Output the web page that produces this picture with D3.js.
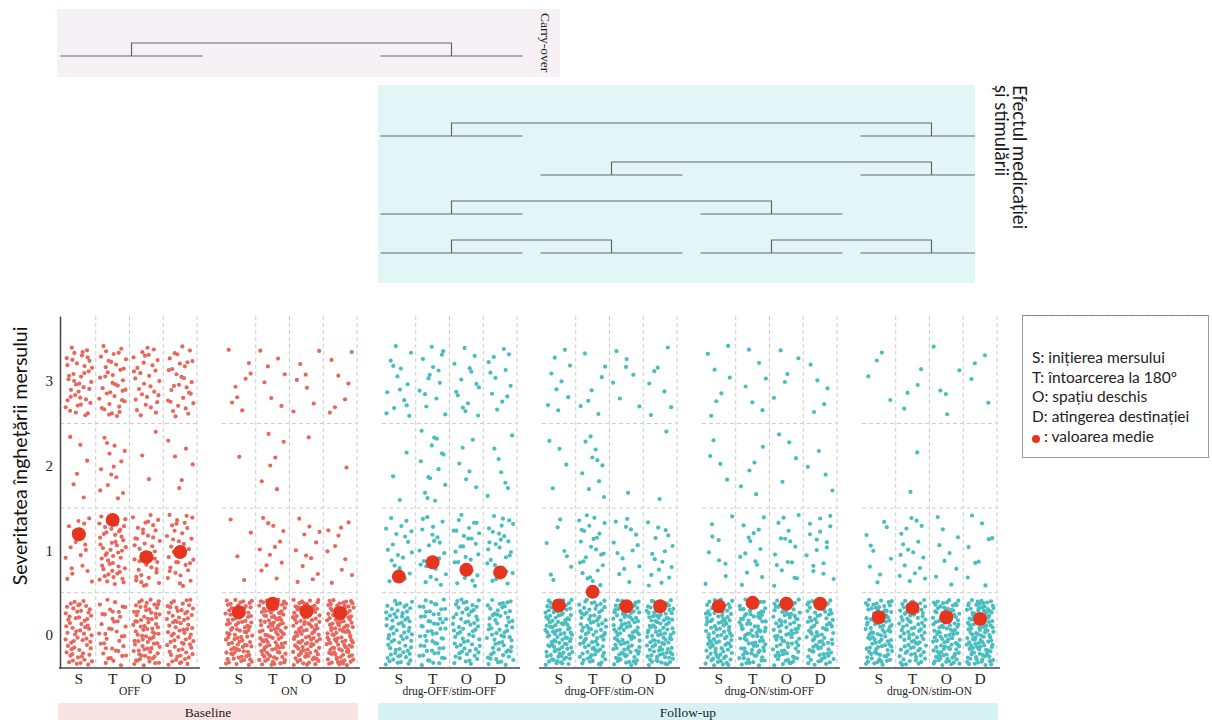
<!DOCTYPE html>
<html>
<head>
<meta charset="utf-8">
<script src="https://cdn.jsdelivr.net/npm/d3@7"></script>
<style>
body { margin: 0; background: #fff; }
svg { display: block; }
</style>
</head>
<body>
<div id="main"></div>
<script>
const W = 1212;
const H = 720;

const panels = ["OFF", "ON", "drug-OFF/stim-OFF", "drug-OFF/stim-ON", "drug-ON/stim-OFF", "drug-ON/stim-ON"];
const panelPhase = ["Baseline", "Baseline", "Follow-up", "Follow-up", "Follow-up", "Follow-up"];
const tasks = ["S", "T", "O", "D"];
const levels = [0, 1, 2, 3];

// number of observations per task (S,T,O,D), split by severity level [0,1,2,3]
const countsOFF    = [[60, 18, 6, 40], [40, 50, 14, 38], [75, 40, 3, 30], [65, 35, 6, 30]];
const countsON     = [[90, 4, 1, 8], [100, 12, 6, 7], [100, 12, 1, 7], [105, 10, 1, 7]];
const countsOffOff = [[65, 20, 3, 14], [55, 22, 14, 14], [60, 28, 6, 14], [60, 28, 7, 12]];
const countsOffOn  = [[100, 8, 4, 9], [80, 25, 10, 7], [90, 14, 1, 7], [95, 16, 2, 7]];
const countsOnOff  = [[90, 9, 4, 7], [85, 14, 5, 6], [80, 16, 4, 5], [80, 16, 4, 5]];
const countsOnOn   = [[90, 9, 0, 4], [80, 17, 2, 4], [100, 9, 0, 5], [110, 9, 0, 4]];

// mean severity per task
const meansOFF    = [1.19, 1.36, 0.92, 0.98];
const meansON     = [0.27, 0.37, 0.28, 0.26];
const meansOffOff = [0.69, 0.86, 0.77, 0.74];
const meansOffOn  = [0.35, 0.51, 0.34, 0.34];
const meansOnOff  = [0.34, 0.38, 0.37, 0.37];
const meansOnOn   = [0.21, 0.32, 0.21, 0.19];

const allCounts = [countsOFF, countsON, countsOffOff, countsOffOn, countsOnOff, countsOnOn];
const allMeans = [meansOFF, meansON, meansOffOff, meansOffOn, meansOnOff, meansOnOn];

// comparisons drawn as brackets (panel indices)
const carryOver = [[0, 2]];
const effectRows = [[[2, 5]], [[3, 5]], [[2, 4]], [[2, 3], [4, 5]]];

const legendLines = ["S: inițierea mersului", "T: întoarcerea la 180º", "O: spațiu deschis", "D: atingerea destinației"];
const legendMean = ": valoarea medie";

const SERIF = "'Liberation Serif', 'Times New Roman', serif";
const SANS = "Lato, 'Open Sans', sans-serif";
const C_BASE = "#e8675d";
const C_FOLLOW = "#49bdc0";
const C_MEAN = "#e6351f";

var svg = d3.select("#main").append("svg").attr("width", W).attr("height", H);

var x = d3.scaleBand().domain(panels).range([62, 997]).paddingInner(0.156).paddingOuter(0);
var col = d3.scaleBand().domain(tasks).range([0, x.bandwidth()]);
var y = d3.scaleLinear().domain([-0.39, 3.77]).range([668, 316]);

// deterministic low-discrepancy jitter inside each cell
var halton = function(i, b){
    var f = 1, r = 0;
    while (i > 0){ f /= b; r += f * (i % b); i = Math.floor(i / b); }
    return r;
};

// ---------- top comparison diagrams ----------
var center = function(pi){ return x(panels[pi]) + x.bandwidth() / 2 + 2; };
var HALF = 71;

var drawRow = function(g, pairs, yLine, xMin, xMax){
    var used = Array.from(new Set(pairs.flat()));
    used.forEach(function(pi){
        g.append("line")
         .attr("x1", Math.max(xMin, center(pi) - HALF)).attr("x2", Math.min(xMax, center(pi) + HALF))
         .attr("y1", yLine).attr("y2", yLine);
    });
    pairs.forEach(function(pr){
        var a = center(pr[0]), b = center(pr[1]);
        g.append("path").attr("fill", "none")
         .attr("d", "M" + a + "," + yLine + "V" + (yLine - 13) + "H" + b + "V" + yLine);
    });
};

svg.append("rect").attr("x", 57).attr("y", 9).attr("width", 503).attr("height", 68).attr("fill", "#f5f1f5");
var coG = svg.append("g").attr("stroke", "#666").attr("stroke-width", 1.2);
drawRow(coG, carryOver, 56, 57, 560);
svg.append("text").attr("transform", "translate(541,13) rotate(90)")
   .attr("font-family", SERIF).attr("font-size", 13.5).attr("fill", "#222").text("Carry-over");

svg.append("rect").attr("x", 378).attr("y", 85).attr("width", 597).attr("height", 198).attr("fill", "#e3f6f6");
var efG = svg.append("g").attr("stroke", "#666").attr("stroke-width", 1.2);
effectRows.forEach(function(pairs, i){ drawRow(efG, pairs, 136 + i * 39, 378, 975); });
var efT = svg.append("text").attr("transform", "translate(1013,85) rotate(90)")
   .attr("font-family", SANS).attr("font-size", 18.5).attr("fill", "#1a1a1a");
efT.append("tspan").attr("x", 0).attr("y", 0).text("Efectul medicației");
efT.append("tspan").attr("x", 0).attr("y", 18.5).text("și stimulării");

// ---------- panels ----------
panels.forEach(function(p, pi){
    var g = svg.append("g").attr("transform", "translate(" + x(p) + ",0)");
    var bw = x.bandwidth();
    var color = panelPhase[pi] === "Baseline" ? C_BASE : C_FOLLOW;

    // grid
    [0.5, 1.5, 2.5].forEach(function(v){
        g.append("line").attr("x1", pi === 0 ? -2 : 0).attr("x2", bw).attr("y1", y(v)).attr("y2", y(v))
         .attr("stroke", "#ccc").attr("stroke-dasharray", "4,3");
    });
    tasks.forEach(function(t){
        var xv = col(t) + col.bandwidth();
        g.append("line").attr("x1", xv).attr("x2", xv).attr("y1", y.range()[1]).attr("y2", y.range()[0])
         .attr("stroke", "#ccc").attr("stroke-dasharray", "4,3");
    });

    // jittered observations
    var pts = [];
    allCounts[pi].forEach(function(byLevel, ti){
        byLevel.forEach(function(n, li){
            var lo = li === 0 ? -0.36 : -0.42, hi = 0.42;
            var off = (pi * 16 + ti * 4 + li) * 53 + 7;
            for (var i = 0; i < n; i++){
                pts.push({
                    px: col(tasks[ti]) + col.bandwidth() * (0.1 + 0.8 * halton(i + off, 2)),
                    py: y(levels[li] + lo + (hi - lo) * halton(i + off, 3))
                });
            }
        });
    });
    g.selectAll("circle.obs").data(pts).enter().append("circle").attr("class", "obs")
     .attr("cx", function(d){ return d.px; }).attr("cy", function(d){ return d.py; })
     .attr("r", 2.1).attr("fill", color);

    // means
    g.selectAll("circle.mean").data(allMeans[pi]).enter().append("circle").attr("class", "mean")
     .attr("cx", function(d, i){ return col(tasks[i]) + col.bandwidth() / 2; })
     .attr("cy", function(d){ return y(d); })
     .attr("r", 7).attr("fill", C_MEAN);

    // x axis
    var ax = g.append("g").attr("transform", "translate(0," + y.range()[0] + ")")
              .call(d3.axisBottom(col).tickSize(0).tickPadding(4.5));
    ax.select(".domain").remove();
    ax.selectAll("text").attr("font-family", SERIF).attr("font-size", 15.5).attr("fill", "#222");
    g.append("line").attr("x1", -3).attr("x2", bw + 3).attr("y1", y.range()[0]).attr("y2", y.range()[0])
     .attr("stroke", "#444").attr("stroke-width", 1.5);

    g.append("text").attr("x", bw / 2).attr("y", 695).attr("text-anchor", "middle")
     .attr("font-family", SERIF).attr("font-size", 11.5).attr("fill", "#222").text(p);
});

// y axis
var yAx = svg.append("g").attr("transform", "translate(60,0)")
             .call(d3.axisLeft(y).tickValues(levels).tickSize(0).tickPadding(7).tickFormat(d3.format("d")));
yAx.select(".domain").attr("stroke", "#444").attr("stroke-width", 1.5);
yAx.selectAll("text").attr("font-family", SERIF).attr("font-size", 15).attr("fill", "#222");

svg.append("text").attr("transform", "translate(27,456) rotate(-90)").attr("text-anchor", "middle")
   .attr("font-family", SANS).attr("font-size", 19.5).attr("fill", "#111").text("Severitatea înghețării mersului");

// ---------- phase bars ----------
var phaseBars = [
    {name: "Baseline", x0: 58, x1: 358, fill: "#f8e2e2"},
    {name: "Follow-up", x0: 378, x1: 998, fill: "#d6f1f3"}
];
svg.selectAll("rect.phase").data(phaseBars).enter().append("rect").attr("class", "phase")
   .attr("x", function(d){ return d.x0; }).attr("y", 703)
   .attr("width", function(d){ return d.x1 - d.x0; }).attr("height", 17)
   .attr("fill", function(d){ return d.fill; });
svg.selectAll("text.phase").data(phaseBars).enter().append("text").attr("class", "phase")
   .attr("x", function(d){ return (d.x0 + d.x1) / 2; }).attr("y", 717).attr("text-anchor", "middle")
   .attr("font-family", SERIF).attr("font-size", 13.5).attr("fill", "#222")
   .text(function(d){ return d.name; });

// ---------- legend ----------
var lg = svg.append("g");
lg.append("rect").attr("x", 1022.5).attr("y", 315.5).attr("width", 186).attr("height", 142)
  .attr("fill", "#fff").attr("stroke", "#999");
lg.append("line").attr("x1", 1022).attr("x2", 1209).attr("y1", 315.5).attr("y2", 315.5)
  .attr("stroke", "#666").attr("stroke-dasharray", "1,1.5");
lg.selectAll("text.li").data(legendLines).enter().append("text").attr("class", "li")
  .attr("x", 1032).attr("y", function(d, i){ return 363 + i * 19.7; })
  .attr("font-family", SANS).attr("font-size", 15.5).attr("fill", "#222")
  .text(function(d){ return d; });
lg.append("circle").attr("cx", 1036).attr("cy", 439).attr("r", 4).attr("fill", C_MEAN);
lg.append("text").attr("x", 1044).attr("y", 442).attr("font-family", SANS).attr("font-size", 15.5)
  .attr("fill", "#222").text(legendMean);
</script>
</body>
</html>
